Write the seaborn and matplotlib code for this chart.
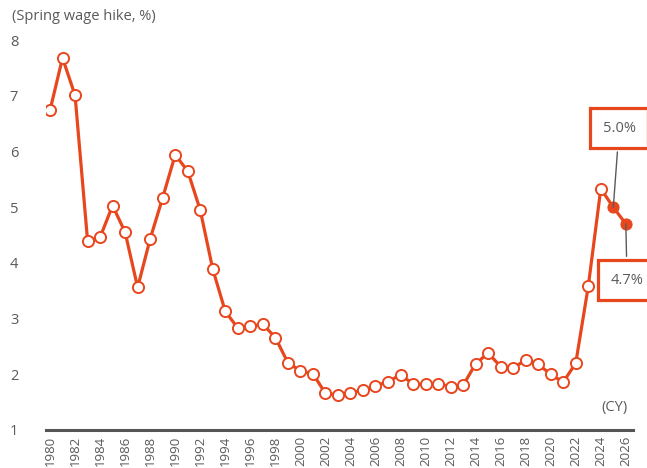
import matplotlib
matplotlib.use("Agg")
import matplotlib.pyplot as plt
import seaborn as sns
import pandas as pd

years_actual = list(range(1980, 2025))
values_actual = [6.74, 7.68, 7.01, 4.40, 4.46, 5.03, 4.55, 3.56, 4.43, 5.17,
                 5.94, 5.65, 4.95, 3.89, 3.13, 2.83, 2.86, 2.90, 2.66, 2.21,
                 2.06, 2.01, 1.66, 1.63, 1.67, 1.71, 1.79, 1.87, 1.99, 1.83,
                 1.82, 1.83, 1.78, 1.80, 2.19, 2.38, 2.14, 2.11, 2.26, 2.18,
                 2.00, 1.86, 2.20, 3.58, 5.33]
years_forecast = [2024, 2025, 2026]
values_forecast = [5.33, 5.00, 4.70]
forecast_labels = ["5.0%", "4.7%"]
xtick_years = list(range(1980, 2027, 2))
ytick_values = [1, 2, 3, 4, 5, 6, 7, 8]

ORANGE = "#E8471E"
GRAY = "#5a5a5a"

sns.set_style("white")
plt.rcParams["font.family"] = ["Open Sans", "DejaVu Sans"]

fig = plt.figure(figsize=(6.47, 4.68), dpi=100)
ax = fig.add_axes([0.0711, 0.0812, 0.907, 0.845])

df_a = pd.DataFrame({"year": years_actual, "value": values_actual})
df_f = pd.DataFrame({"year": years_forecast, "value": values_forecast})

sns.lineplot(data=df_f, x="year", y="value", ax=ax, color=ORANGE, lw=2.3,
             marker="o", markevery=[1, 2], markersize=8,
             markerfacecolor=ORANGE, markeredgecolor=ORANGE, zorder=3)
sns.lineplot(data=df_a, x="year", y="value", ax=ax, color=ORANGE, lw=2.3,
             marker="o", markersize=8, markerfacecolor="white",
             markeredgecolor=ORANGE, markeredgewidth=1.4, zorder=4)

ax.set_xlim(1979.68, 2026.56)
ax.set_ylim(1, 8.1)
ax.set_xticks(xtick_years)
ax.set_xticklabels([str(y) for y in xtick_years], rotation=90,
                   fontsize=9.5, color=GRAY)
ax.set_yticks(ytick_values)
ax.set_yticklabels([str(v) for v in ytick_values], fontsize=10.5, color=GRAY)
ax.tick_params(axis="both", length=0)
ax.tick_params(axis="y", pad=20)
ax.tick_params(axis="x", pad=4)
ax.set_xlabel("")
ax.set_ylabel("")
for s in ["top", "right", "left"]:
    ax.spines[s].set_visible(False)
ax.spines["bottom"].set_color("#555555")
ax.spines["bottom"].set_linewidth(2.2)
ax.grid(False)

fig.text(12 / 647, 1 - 17 / 468, "(Spring wage hike, %)", fontsize=10.5,
         color=GRAY, va="center", ha="left")
fig.text(628 / 647, 1 - 408 / 468, "(CY)", fontsize=10.5, color=GRAY,
         va="center", ha="right")

bbox = dict(boxstyle="square,pad=0.85", fc="white", ec=ORANGE, lw=2.3)
ax.annotate(forecast_labels[0], xy=(years_forecast[1], values_forecast[1]),
            xytext=(2025.47, 6.42), ha="center", va="center", fontsize=10.5,
            color=GRAY, bbox=bbox, annotation_clip=False, zorder=5,
            arrowprops=dict(arrowstyle="-", color=GRAY, lw=1.0, shrinkB=0))
ax.annotate(forecast_labels[1], xy=(years_forecast[2], values_forecast[2]),
            xytext=(2026.1, 3.69), ha="center", va="center", fontsize=10.5,
            color=GRAY, bbox=bbox, annotation_clip=False, zorder=5,
            arrowprops=dict(arrowstyle="-", color=GRAY, lw=1.0, shrinkB=0))

fig.savefig("out.png", dpi=100)
